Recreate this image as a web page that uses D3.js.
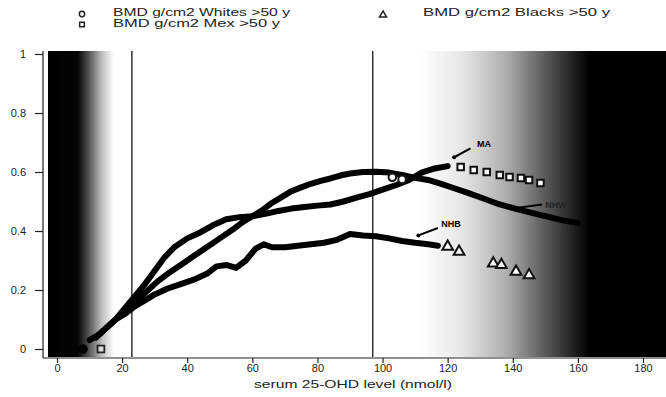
<!DOCTYPE html>
<html><head><meta charset="utf-8">
<script src="https://cdn.jsdelivr.net/npm/d3@7"></script>
<style>
html,body{margin:0;padding:0;background:#fff;}
svg{display:block;font-family:"Liberation Sans",Arial,sans-serif;}
</style></head>
<body><svg id="c" width="666" height="397"></svg>
<script>
// ---- data ----
const xTicks = [0,20,40,60,80,100,120,140,160,180];
const xTickLabels = ["0","20","40","60","80","100","120","140","160","180"];
const yTicks = [0,0.2,0.4,0.6,0.8,1];
const yTickLabels = ["0","0.2","0.4","0.6","0.8","1"];
const refLines = [23,97];

const whitesLine = [[10,0.03],[13,0.05],[16,0.08],[19,0.11],[22,0.14],[25,0.17],[28,0.20],[31,0.23],[34,0.255],[38,0.285],[42,0.315],[46,0.345],[50,0.375],[54,0.405],[57,0.43],[60,0.45],[63,0.47],[66,0.495],[69,0.515],[72,0.535],[75,0.548],[78,0.56],[81,0.57],[84,0.578],[87,0.588],[90,0.595],[94,0.6],[98,0.601],[102,0.598],[106,0.59],[110,0.58],[114,0.573],[118,0.56],[122,0.545],[126,0.53],[131,0.51],[136,0.49],[141,0.475],[146.5,0.46],[151,0.448],[155,0.437],[160,0.427]];
const whitesPts = [[8,0.0],[103,0.582],[106,0.575]];

const mexLine = [[12,0.04],[15,0.07],[18,0.10],[21,0.14],[24,0.18],[27,0.22],[30,0.265],[33,0.31],[36,0.345],[40,0.375],[44,0.395],[48,0.42],[52,0.44],[56,0.447],[60,0.45],[64,0.458],[68,0.468],[72,0.476],[76,0.481],[80,0.486],[84,0.49],[88,0.5],[92,0.513],[96,0.525],[100,0.54],[104,0.555],[108,0.572],[112,0.598],[116,0.612],[120,0.62]];
const mexPts = [[13.5,0.0],[124,0.617],[128,0.607],[132,0.6],[136,0.59],[139,0.583],[142.5,0.58],[145,0.573],[148.5,0.563]];

const blacksLine = [[12,0.04],[15,0.07],[18,0.10],[21,0.12],[24,0.145],[27,0.165],[30,0.185],[34,0.205],[38,0.22],[42,0.235],[46,0.255],[49,0.28],[52,0.285],[55,0.275],[58,0.3],[61,0.34],[63.5,0.355],[66,0.345],[70,0.345],[74,0.35],[78,0.355],[82,0.36],[86,0.37],[90,0.39],[94,0.385],[98,0.382],[102,0.375],[106,0.366],[110,0.36],[114,0.355],[117,0.35]];
const blacksPts = [[120,0.347],[123.5,0.33],[134,0.29],[136.5,0.285],[141,0.262],[145,0.25]];

const legendItems = [
  {label:"BMD g/cm2 Whites >50 y", symbol:"circle"},
  {label:"BMD g/cm2 Mex >50 y", symbol:"square"},
  {label:"BMD g/cm2 Blacks >50 y", symbol:"triangle"}
];
const annotations = [
  {text:"MA", at:[129,0.695], from:[127,0.68], to:[122,0.65]},
  {text:"NHB", at:[118,0.425], from:[117,0.41], to:[111,0.385]},
  {text:"NHW", at:[150,0.49], from:[149,0.49], to:[141,0.478]}
];
const xTitle = "serum 25-OHD level (nmol/l)";

// ---- layout ----
const svg = d3.select("#c");
const x = d3.scaleLinear().domain([0,180]).range([57,643]);
const y = d3.scaleLinear().domain([0,1]).range([349,54]);
const plot = {l:48, r:666, t:51, b:357};

const defs = svg.append("defs");
const gl = defs.append("linearGradient").attr("id","gl").attr("gradientUnits","userSpaceOnUse")
  .attr("x1",plot.l).attr("x2",114).attr("y1",0).attr("y2",0);
[[0,"#000"],[0.45,"#050505"],[0.62,"#555"],[0.82,"#c0c0c0"],[1,"#fff"]].forEach(s=>gl.append("stop").attr("offset",s[0]).attr("stop-color",s[1]));
const gr = defs.append("linearGradient").attr("id","gr").attr("gradientUnits","userSpaceOnUse")
  .attr("x1",420).attr("x2",590).attr("y1",0).attr("y2",0);
[[0,"#fff"],[0.25,"#e6e6e6"],[0.5,"#b0b0b0"],[0.75,"#555"],[1,"#000"]].forEach(s=>gr.append("stop").attr("offset",s[0]).attr("stop-color",s[1]));
defs.append("clipPath").attr("id","clip").append("rect")
  .attr("x",plot.l).attr("y",plot.t).attr("width",plot.r-plot.l).attr("height",plot.b-plot.t);

const pg = svg.append("g").attr("clip-path","url(#clip)");
pg.append("rect").attr("x",plot.l).attr("y",plot.t).attr("width",114-plot.l).attr("height",plot.b-plot.t).attr("fill","url(#gl)");
pg.append("rect").attr("x",420).attr("y",plot.t).attr("width",plot.r-420).attr("height",plot.b-plot.t).attr("fill","url(#gr)");

// reference lines
pg.selectAll("line.ref").data(refLines).join("line").attr("class","ref")
  .attr("x1",d=>x(d)).attr("x2",d=>x(d)).attr("y1",plot.t).attr("y2",plot.b)
  .attr("stroke","#000").attr("stroke-width",1.2);

const line = d3.line().x(d=>x(d[0])).y(d=>y(d[1]));
[whitesLine, mexLine, blacksLine].forEach(s=>{
  pg.append("path").datum(s).attr("d",line).attr("fill","none")
    .attr("stroke","#000").attr("stroke-width",6).attr("stroke-linejoin","round").attr("stroke-linecap","round");
});

// markers
const sym = {circle:d3.symbolCircle, square:d3.symbolSquare, triangle:d3.symbolTriangle};
function markers(pts, type, size){
  pg.selectAll(null).data(pts).join("path")
    .attr("transform",d=>`translate(${x(d[0])},${y(d[1])})`)
    .attr("d",d3.symbol().type(sym[type]).size(size))
    .attr("fill",d=>d[0]<12?"#000":"#fff").attr("stroke",d=>d[0]<12?"#000":"#111").attr("stroke-width",2);
}
markers(whitesPts,"circle",45);
markers(mexPts,"square",42);
markers(blacksPts,"triangle",50);
pg.selectAll(null).data(mexPts.filter(d=>d[0]<20)).join("path")
  .attr("transform",d=>`translate(${x(d[0])},${y(d[1])})`)
  .attr("d",d3.symbol().type(d3.symbolSquare).size(42))
  .attr("fill","#ddd").attr("stroke","#222").attr("stroke-width",1.5);

// annotations
annotations.forEach(a=>{
  pg.append("line").attr("x1",x(a.from[0])).attr("y1",y(a.from[1])).attr("x2",x(a.to[0])).attr("y2",y(a.to[1]))
    .attr("stroke","#000").attr("stroke-width",2);
  pg.append("circle").attr("cx",x(a.to[0])).attr("cy",y(a.to[1])).attr("r",2).attr("fill","#000");
  pg.append("text").attr("x",x(a.at[0])).attr("y",y(a.at[1])).attr("font-size",9).attr("font-weight","bold")
    .attr("fill",a.text==="NHW"?"#222":"#000").attr("dy","0.35em").text(a.text);
});

// axes
const yAxis = d3.axisLeft(y).tickValues(yTicks).tickFormat((d,i)=>yTickLabels[i]).tickSize(8).tickPadding(9);
const gy = svg.append("g").attr("transform","translate(43,0)").call(yAxis);
gy.select(".domain").attr("d",`M0,${plot.t}V${plot.b+1}`);
const xAxis = d3.axisBottom(x).tickValues(xTicks).tickFormat((d,i)=>xTickLabels[i]).tickSize(5).tickPadding(2);
const gx = svg.append("g").attr("transform",`translate(0,${plot.b+1})`).call(xAxis);
gx.select(".domain").attr("d",`M43,0H666`);
[gx,gy].forEach(g=>{
  g.selectAll("text").attr("font-size",11).attr("fill","#222").attr("font-family","'Liberation Sans',Arial,sans-serif");
  g.selectAll("line,.domain").attr("stroke","#222").attr("stroke-width",1.2);
});
gx.selectAll("text").attr("dy","0.6em");

svg.append("text").attr("x",254).attr("y",388).attr("font-size",11).attr("fill","#222")
  .attr("textLength",198).attr("lengthAdjust","spacingAndGlyphs").text(xTitle);

// legend
const legPos = [{sx:82,sy:14,tx:113,ty:12,w:177},{sx:82,sy:24.5,tx:113,ty:23.5,w:167},{sx:383,sy:15,tx:423,ty:12,w:187}];
legendItems.forEach((d,i)=>{
  const p = legPos[i];
  svg.append("path").attr("transform",`translate(${p.sx},${p.sy})`)
    .attr("d",d3.symbol().type(sym[d.symbol]).size(22)).attr("fill","none").attr("stroke","#222").attr("stroke-width",1.5);
  svg.append("text").attr("x",p.tx).attr("y",p.ty).attr("dy","0.35em").attr("font-size",10.5).attr("fill","#222")
    .attr("textLength",p.w).attr("lengthAdjust","spacingAndGlyphs").text(d.label);
});
</script></body></html>
